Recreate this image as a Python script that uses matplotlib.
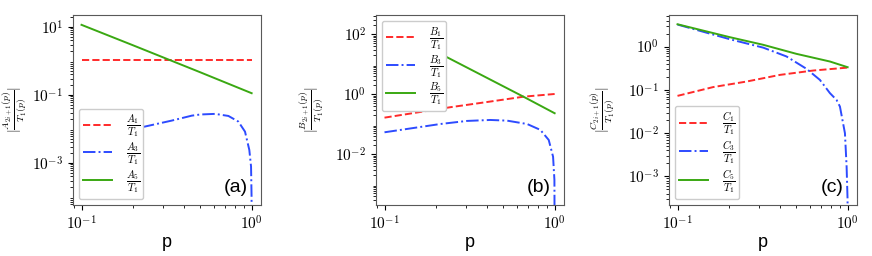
import numpy as np
import matplotlib
matplotlib.use("Agg")
import matplotlib.pyplot as plt
from matplotlib.ticker import FuncFormatter, NullFormatter

plt.rcParams["mathtext.fontset"] = "cm"

# ─────────────────────────────────────────────
# Data (ratios vs p)
# ─────────────────────────────────────────────

# panel (a)
p_a1 = [0.1, 0.3, 1.0]
a1   = [1.05, 1.05, 1.05]
p_a3 = [0.1, 0.15, 0.236, 0.339, 0.445, 0.5, 0.61, 0.73, 0.835, 0.914, 0.969, 0.992, 0.999, 0.9999]
a3   = [0.0045, 0.0072, 0.0117, 0.0175, 0.0245, 0.0265, 0.0276, 0.024, 0.0164, 0.0083, 0.0024, 0.00078, 0.0001, 0.00001]
p_a5 = [0.1, 0.2, 0.5, 1.0]
a5   = [11.5, 2.9, 0.46, 0.112]

# panel (b)
p_b1 = [0.1, 0.244, 0.4, 0.658, 1.0]
b1   = [0.166, 0.37, 0.55, 0.83, 1.02]
p_b3 = [0.1, 0.213, 0.305, 0.419, 0.525, 0.689, 0.824, 0.923, 0.979, 0.997, 0.9999]
b3   = [0.054, 0.102, 0.129, 0.139, 0.132, 0.102, 0.065, 0.030, 0.0083, 0.0014, 0.00001]
p_b5 = [0.1, 0.233, 0.658, 1.0]
b5   = [233.0, 17.1, 0.82, 0.233]

# panel (c)
p_c1 = [0.1, 0.162, 0.255, 0.4, 0.628, 1.0]
c1   = [0.0727, 0.116, 0.156, 0.222, 0.280, 0.327]
p_c3 = [0.1, 0.203, 0.319, 0.437, 0.574, 0.687, 0.787, 0.86, 0.901, 0.964, 0.986, 0.999, 0.99999]
c3   = [3.23, 1.48, 0.946, 0.592, 0.305, 0.170, 0.084, 0.0588, 0.0411, 0.0100, 0.0017, 0.00029, 0.000001]
p_c5 = [0.1, 0.203, 0.319, 0.5, 0.787, 1.0]
c5   = [3.28, 1.65, 1.10, 0.68, 0.452, 0.334]

panels = [
    ("A", "(a)", (p_a1, a1), (p_a3, a3), (p_a5, a5), (10**-4.24, 10**1.35),
     [1e1, 1e-1, 1e-3], "lower left", 73, -0.24),
    ("B", "(b)", (p_b1, b1), (p_b3, b3), (p_b5, b5), (10**-3.69, 10**2.64),
     [1e2, 1e0, 1e-2], "upper left", 376, -0.27),
    ("C", "(c)", (p_c1, c1), (p_c3, c3), (p_c5, c5), (10**-3.66, 10**0.73),
     [1e0, 1e-1, 1e-2, 1e-3], "lower left", 669, -0.28),
]

RED   = "#ff2a2a"
BLUE  = "#2d4bff"
GREEN = "#3aa812"

pow10 = FuncFormatter(lambda v, _: rf"$10^{{{int(round(np.log10(v)))}}}$")

W, H = 872, 256
fig = plt.figure(figsize=(W / 100, H / 100), dpi=100)

for letter, tag, s1, s3, s5, ylim, yticks, loc, left_px, ylab_x in panels:
    ax = fig.add_axes([left_px / W, 51 / H, 188 / W, 190 / H])
    ax.plot(*s1, color=RED, ls="--", lw=1.4, label=rf"$\dfrac{{{letter}_1}}{{T_1}}$")
    ax.plot(*s3, color=BLUE, ls="-.", lw=1.4, label=rf"$\dfrac{{{letter}_3}}{{T_1}}$")
    ax.plot(*s5, color=GREEN, ls="-", lw=1.4, label=rf"$\dfrac{{{letter}_5}}{{T_1}}$")
    ax.set_xscale("log")
    ax.set_yscale("log")
    ax.set_xlim(10**-1.05, 10**0.055)
    ax.set_ylim(*ylim)
    ax.set_yticks(yticks)
    ax.set_xticks([1e-1, 1e0])
    for axis in (ax.xaxis, ax.yaxis):
        axis.set_major_formatter(pow10)
        axis.set_minor_formatter(NullFormatter())
    ax.tick_params(labelsize=11)
    for sp in ax.spines.values():
        sp.set_color("0.35")
    ax.set_xlabel("p", fontsize=13, family="Liberation Sans", labelpad=1)
    # plain bars: mathtext \left|...\right| picks oversized delimiters here
    ax.set_ylabel(rf"$|\frac{{{letter}_{{2i+1}}(p)}}{{T_1(p)}}|$", fontsize=10)
    ax.yaxis.set_label_coords(ylab_x, 0.5)
    ax.text(0.93, 0.045, tag, transform=ax.transAxes, ha="right", va="bottom",
            fontsize=14, family="Liberation Sans")
    leg = ax.legend(loc=loc, fontsize=7.5, framealpha=1.0, handlelength=2.8,
                    handletextpad=1.3, borderaxespad=0.6, labelspacing=0.1,
                    borderpad=0.35)
    leg.set_zorder(5)

fig.savefig("out.png", dpi=100)
